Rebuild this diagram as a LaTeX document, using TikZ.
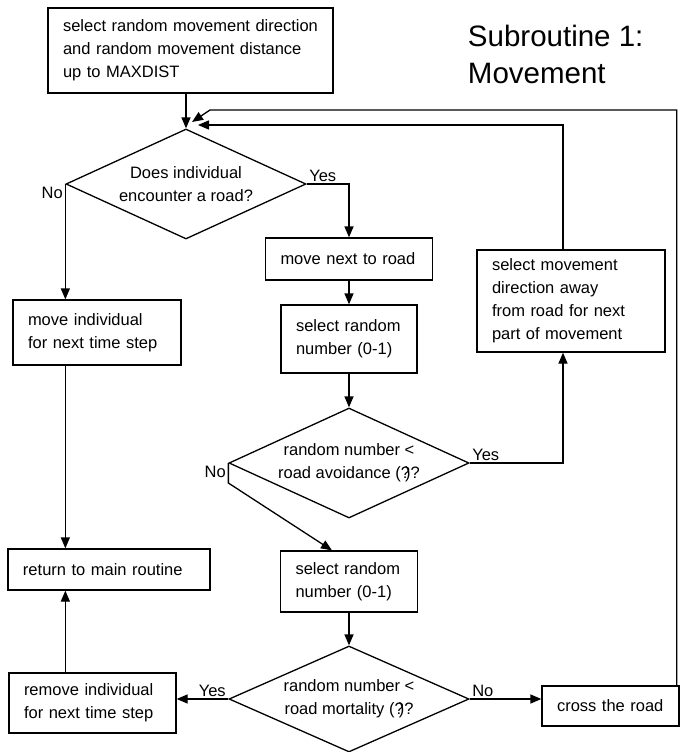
\documentclass[tikz,border=0pt]{standalone}
\usepackage{fontspec}
\setmainfont{Liberation Sans}
\usetikzlibrary{shapes.geometric,arrows.meta}

\begin{document}
\begin{tikzpicture}[x=1pt, y=-1pt, line width=1.3pt,
  font=\fontsize{16.5}{23}\selectfont,
  box/.style={draw, rectangle, align=left, inner xsep=15pt, inner ysep=0pt},
  dec/.style={draw, diamond, shape aspect=2.2, inner sep=0pt, minimum width=240pt, minimum height=110pt, align=center},
  flow/.style={-{Triangle[length=11pt,width=9pt]}},
  lab/.style={inner sep=2pt}]
\useasboundingbox (0,0) rectangle (680,752);

\node[box, text width=255pt, minimum height=85pt] (pick) at (190.5,50.5) {select random movement direction\\and random movement distance\\up to MAXDIST};
\node[align=left, anchor=west, font=\fontsize{29.5}{37}\selectfont] (title) at (464,54) {Subroutine 1:\\Movement};

\node[dec] (meet) at (186,184) {Does individual\\encounter a road?};
\node[box, text width=138pt, minimum height=65pt] (walk) at (97,332.5) {move individual\\for next time step};
\node[box, text width=172pt, minimum height=41pt] (back) at (109,569.5) {return to main routine};
\node[box, text width=137pt, minimum height=60pt] (kill) at (92.5,703) {remove individual\\for next time step};

\node[box, text width=137pt, minimum height=42pt] (edge) at (349,259) {move next to road};
\node[box, text width=106pt, minimum height=68pt] (rndA) at (349,339) {select random\\number (0-1)};
\node[dec] (avoid) at (349,463) {random number <\\road avoidance (?\kern-.3em)?};
\node[box, text width=158pt, minimum height=102pt] (turn) at (571,301) {select movement\\direction away\\from road for next\\part of movement};
\node[box, text width=107pt, minimum height=61pt] (rndB) at (349,581.5) {select random\\number (0-1)};
\node[dec, minimum height=106pt] (death) at (349,699) {random number <\\road mortality (?\kern-.3em)?};
\node[box, text width=107pt, minimum height=40pt] (cross) at (610.5,706) {cross the road};

\coordinate (inA) at (198,125);
\coordinate (bendB) at (210,110);
\coordinate (outA) at (192,122);

\draw[flow] (pick.south -| meet.north) -- (meet.north);
\draw[flow] (meet.west) node[lab, below left] (noA) {No} -- (meet.west |- walk.north);
\draw[flow] (meet.east) node[lab, above right] (yesA) {Yes} -| (edge.north);
\draw[flow] (walk.south -| meet.west) -- (back.north -| meet.west);
\draw[flow] (edge.south) -- (rndA.north);
\draw[flow] (rndA.south) -- (avoid.north);
\draw[flow] (avoid.east) node[lab, above right] (yesB) {Yes} -| ([xshift=-8pt]turn.south);
\draw[flow] ([xshift=-8pt]turn.north) |- (inA);
\draw[flow] (avoid.west) node[lab, below left] (noB) {No} -- ++(0,20) -- ([xshift=-17pt]rndB.north);
\draw[flow] (rndB.south) -- (death.north);
\draw[flow] (death.west) node[lab, above left] (yesC) {Yes} -- (death.west -| kill.east);
\draw[flow] (death.east) node[lab, above right] (noC) {No} -- (death.east -| cross.west);
\draw[flow] (kill.north -| meet.west) -- (back.south -| meet.west);
\draw[flow] ([xshift=-3pt]cross.north east) |- (bendB) -- (outA);
\end{tikzpicture}
\end{document}
